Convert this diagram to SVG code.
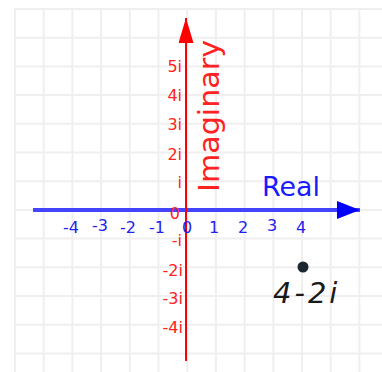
<svg xmlns="http://www.w3.org/2000/svg" width="382" height="372" viewBox="0 0 382 372">
<style>
.grid line{stroke:#efefef;stroke-width:2}
.bl{fill:#2222ee;font-family:"DejaVu Sans","Liberation Sans",sans-serif;font-size:16px;text-anchor:middle}
.rl{fill:#ff2222;font-family:"DejaVu Sans","Liberation Sans",sans-serif;font-size:16px;text-anchor:end}
</style>
<defs>
<marker id="ab" markerUnits="userSpaceOnUse" markerWidth="24" markerHeight="20" refX="23" refY="9" orient="auto">
<path d="M0,0 L23,9 L0,18 Z" fill="#0000ff"/>
</marker>
<marker id="ar" markerUnits="userSpaceOnUse" markerWidth="26" markerHeight="16" refX="25" refY="7.5" orient="auto">
<path d="M0,0 L25,7.5 L0,15 Z" fill="#ff0000"/>
</marker>
</defs>
<rect width="382" height="372" fill="#ffffff"/>
<g class="grid">
<line x1="15" y1="8" x2="15" y2="372"/>
<line x1="43.7" y1="8" x2="43.7" y2="372"/>
<line x1="72.4" y1="8" x2="72.4" y2="372"/>
<line x1="101.1" y1="8" x2="101.1" y2="372"/>
<line x1="129.8" y1="8" x2="129.8" y2="372"/>
<line x1="158.5" y1="8" x2="158.5" y2="372"/>
<line x1="187.2" y1="8" x2="187.2" y2="372"/>
<line x1="215.9" y1="8" x2="215.9" y2="372"/>
<line x1="244.6" y1="8" x2="244.6" y2="372"/>
<line x1="273.3" y1="8" x2="273.3" y2="372"/>
<line x1="302" y1="8" x2="302" y2="372"/>
<line x1="330.7" y1="8" x2="330.7" y2="372"/>
<line x1="359.4" y1="8" x2="359.4" y2="372"/>
<line x1="14" y1="9" x2="382" y2="9"/>
<line x1="14" y1="37.7" x2="382" y2="37.7"/>
<line x1="14" y1="66.4" x2="382" y2="66.4"/>
<line x1="14" y1="95.1" x2="382" y2="95.1"/>
<line x1="14" y1="123.8" x2="382" y2="123.8"/>
<line x1="14" y1="152.5" x2="382" y2="152.5"/>
<line x1="14" y1="181.2" x2="382" y2="181.2"/>
<line x1="14" y1="209.9" x2="382" y2="209.9"/>
<line x1="14" y1="238.6" x2="382" y2="238.6"/>
<line x1="14" y1="267.3" x2="382" y2="267.3"/>
<line x1="14" y1="296" x2="382" y2="296"/>
<line x1="14" y1="324.7" x2="382" y2="324.7"/>
<line x1="14" y1="353.4" x2="382" y2="353.4"/>
</g>
<g id="axes">
<line id="real-axis" x1="33" y1="210" x2="360" y2="210" stroke="#4444ff" stroke-width="4" marker-end="url(#ab)"/>
<line id="imag-axis" x1="186" y1="361" x2="186" y2="18" stroke="#ff0000" stroke-width="2" marker-end="url(#ar)"/>
</g>
<g id="real-labels">
<text class="bl" x="71" y="233">-4</text>
<text class="bl" x="100" y="231">-3</text>
<text class="bl" x="128" y="233">-2</text>
<text class="bl" x="157" y="233">-1</text>
<text class="bl" x="187" y="233">0</text>
<text class="bl" x="214" y="233">1</text>
<text class="bl" x="243" y="233">2</text>
<text class="bl" x="272" y="231">3</text>
<text class="bl" x="301" y="233">4</text>
</g>
<g id="imag-labels">
<text class="rl" x="182" y="72">5i</text>
<text class="rl" x="182" y="101">4i</text>
<text class="rl" x="182" y="130">3i</text>
<text class="rl" x="182" y="160">2i</text>
<text class="rl" x="182" y="188">i</text>
<text class="rl" x="180" y="219">0</text>
<text class="rl" x="182" y="246">-i</text>
<text class="rl" x="183" y="276">-2i</text>
<text class="rl" x="183" y="304">-3i</text>
<text class="rl" x="183" y="333">-4i</text>
</g>
<text id="real-title" x="262" y="196" fill="#1a1aff" font-family="DejaVu Sans, Liberation Sans, sans-serif" font-size="27" textLength="58" lengthAdjust="spacingAndGlyphs">Real</text>
<text id="imag-title" transform="translate(219,192) rotate(-90)" fill="#ff2222" font-family="DejaVu Sans, Liberation Sans, sans-serif" font-size="28" textLength="152" lengthAdjust="spacingAndGlyphs">Imaginary</text>
<g id="point">
<circle cx="303" cy="267" r="5.5" fill="#1b2830"/>
<text x="273" y="303" fill="#1a1a1a" font-family="DejaVu Sans, Liberation Sans, sans-serif" font-style="italic" font-size="29" letter-spacing="3">4-2i</text>
</g>
</svg>
